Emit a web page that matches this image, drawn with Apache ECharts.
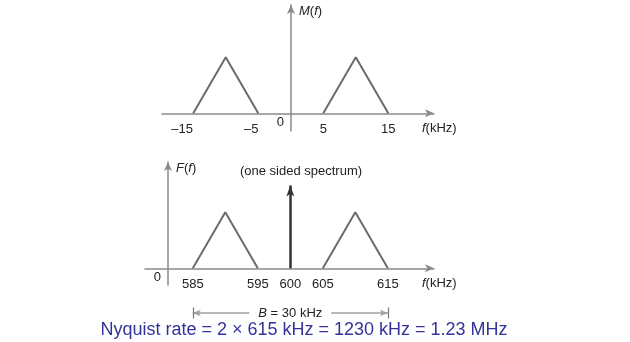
<!DOCTYPE html>
<html><head><meta charset="utf-8">
<script src="https://cdn.jsdelivr.net/npm/echarts@6/dist/echarts.min.js"></script>
<style>html,body{margin:0;padding:0;background:#fff}#c{width:630px;height:342px}</style>
</head><body><div id="c"></div>
<script>
// ---- data ----
const topTicks = [-15, -5, 5, 15];
const topLeftBand = [[-15, 0], [-10, 1], [-5, 0]];
const topRightBand = [[5, 0], [10, 1], [15, 0]];
const botTicks = [585, 595, 600, 605, 615];
const botLeftBand = [[585, 0], [590, 1], [595, 0]];
const botRightBand = [[605, 0], [610, 1], [615, 0]];
const carrierFreq = 600;
const carrierHeight = 1.48;
const bandLow = 585;
const bandHigh = 615;
const topYName = 'M(f)';
const botYName = 'F(f)';
const xName = 'f(kHz)';
const spectrumNote = '(one sided spectrum)';
const bandwidthLabel = 'B = 30 kHz';
const nyquistText = 'Nyquist rate = 2 × 615 kHz = 1230 kHz = 1.23 MHz';

// ---- styles ----
const FONT = 'Liberation Sans, Arial, sans-serif';
const AXIS_COLOR = '#8a8a8a';
const TRI_COLOR = '#6b6b6b';
const TEXT_COLOR = '#222';

const chart = echarts.init(document.getElementById('c'), null, {renderer: 'canvas'});

function italicize(s) {
  return s.replace(/^([A-Za-z])\(([a-z])\)/, '{i|$1}({i|$2})');
}
const rich = {
  i: {fontStyle: 'italic', fontFamily: FONT, fontSize: 13, color: TEXT_COLOR},
  p: {fontFamily: FONT, fontSize: 13, color: TEXT_COLOR},
  n1: {fontFamily: FONT, fontSize: 13, color: TEXT_COLOR, padding: [0, 14, 0, 0]},
  n2: {fontFamily: FONT, fontSize: 13, color: TEXT_COLOR, padding: [0, 22, 0, 0]}
};
function tickFmt(v) {
  if (v < 0) {
    const s = String(Math.abs(v));
    return '{n' + s.length + '|\u2013' + s + '}';
  }
  return '{p|' + v + '}';
}

const axisLine = {
  show: true,
  onZero: false,
  symbol: ['none', 'arrow'],
  symbolSize: [6, 9],
  lineStyle: {color: AXIS_COLOR, width: 1.5}
};

function xAxisCfg(gridIndex, min, max, ticks, offset) {
  return {
    type: 'value', gridIndex, min, max, position: 'bottom', offset,
    splitLine: {show: false},
    axisTick: {show: false},
    axisLine,
    axisLabel: {customValues: ticks, formatter: tickFmt, rich, margin: 10},
    name: xName.replace(/^f/, '{i|f}'),
    nameLocation: 'end',
    nameGap: -12,
    nameTextStyle: {align: 'left', verticalAlign: 'top', padding: [9, 0, 0, 0],
      fontFamily: FONT, fontSize: 13, color: TEXT_COLOR, rich}
  };
}
function yAxisCfg(gridIndex, min, max, name, offset) {
  return {
    type: 'value', gridIndex, min, max, position: 'left', offset,
    splitLine: {show: false},
    axisTick: {show: false},
    axisLine,
    axisLabel: {customValues: [0], margin: 7, verticalAlign: 'top', padding: [3, 0, 0, 0],
      fontFamily: FONT, fontSize: 13, color: TEXT_COLOR},
    name: italicize(name),
    nameLocation: 'end',
    nameGap: -6,
    nameTextStyle: {align: 'left', verticalAlign: 'middle', padding: [0, 0, 0, 8],
      fontFamily: FONT, fontSize: 13, color: TEXT_COLOR, rich}
  };
}

const triStyle = {color: TRI_COLOR, width: 2};
function band(data, xi, yi) {
  return {type: 'line', xAxisIndex: xi, yAxisIndex: yi, data, symbol: 'none',
    lineStyle: triStyle, silent: true, animation: false};
}

const option = {
  animation: false,
  grid: [
    {left: 162, right: 196, top: 5, bottom: 342 - 131},
    {left: 145, right: 196, top: 162, bottom: 342 - 285},
    {left: 145, right: 196, top: 300, height: 26}
  ],
  xAxis: [
    xAxisCfg(0, -19.8, 22.03, topTicks, -17.7),
    xAxisCfg(1, 577.65, 622.1, botTicks, -16.7),
    {type: 'value', gridIndex: 2, min: 577.65, max: 622.1, show: false}
  ],
  yAxis: [
    yAxisCfg(0, -0.316, 1.934, topYName, -129),
    yAxisCfg(1, -0.298, 1.898, botYName, -23),
    {type: 'value', gridIndex: 2, min: 0, max: 1, show: false}
  ],
  series: [
    band(topLeftBand, 0, 0),
    band(topRightBand, 0, 0),
    band(botLeftBand, 1, 1),
    band(botRightBand, 1, 1),
    {
      type: 'line', xAxisIndex: 1, yAxisIndex: 1, data: [[carrierFreq, 0]],
      symbol: 'none', lineStyle: {opacity: 0}, silent: true,
      markLine: {
        silent: true, animation: false,
        symbol: ['none', 'arrow'], symbolSize: [6, 11],
        label: {show: false},
        lineStyle: {color: '#333', width: 2.5, type: 'solid'},
        data: [[{coord: [carrierFreq, 0]}, {coord: [carrierFreq, carrierHeight]}]]
      }
    },
    {
      type: 'line', xAxisIndex: 2, yAxisIndex: 2, data: [[bandLow, 0.5]],
      symbol: 'none', lineStyle: {opacity: 0}, silent: true,
      markLine: {
        silent: true, animation: false,
        symbol: ['arrow', 'arrow'], symbolSize: [5, 8],
        lineStyle: {color: '#a0a0a0', width: 1.5, type: 'solid'},
        data: [
          [{coord: [bandLow, 0.5],
            label: {show: true, position: 'middle', distance: 0, verticalAlign: 'middle',
              formatter: bandwidthLabel.replace(/^B/, '{i|B}'), rich,
              backgroundColor: '#fff', padding: [2, 9],
              fontFamily: FONT, fontSize: 13, color: TEXT_COLOR}},
           {coord: [bandHigh, 0.5]}],
          [{coord: [bandLow, 0.29], symbol: 'none', label: {show: false}, lineStyle: {color: '#777', width: 1.2}},
           {coord: [bandLow, 0.71], symbol: 'none'}],
          [{coord: [bandHigh, 0.29], symbol: 'none', label: {show: false}, lineStyle: {color: '#777', width: 1.2}},
           {coord: [bandHigh, 0.71], symbol: 'none'}]
        ]
      }
    }
  ],
  graphic: [
    {type: 'text', x: 301, y: 171, silent: true,
      style: {text: spectrumNote, font: '13px ' + FONT, fill: TEXT_COLOR, align: 'center', verticalAlign: 'middle'}},
    {type: 'text', x: 304, y: 330, silent: true,
      style: {text: nyquistText, font: '18px ' + FONT, fill: '#33339a', align: 'center', verticalAlign: 'middle'}}
  ]
};
chart.setOption(option);
</script>
</body></html>
